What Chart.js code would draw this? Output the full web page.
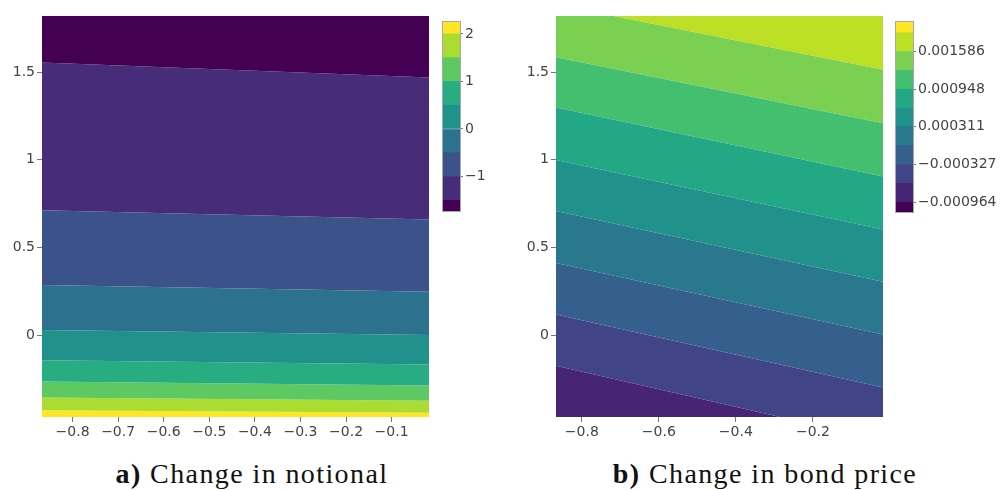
<!DOCTYPE html>
<html>
<head>
<meta charset="utf-8">
<script src="https://cdn.jsdelivr.net/npm/chart.js@4/dist/chart.umd.min.js"></script>
<style>
  html, body { margin: 0; padding: 0; background: #fff; overflow: hidden; }
  body { width: 1001px; height: 490px; position: relative; }
  .box { position: absolute; }
  .cap { position: absolute; top: 460px; font-family: "Liberation Serif", serif; font-size: 28px;
         line-height: 28px; letter-spacing: 1.4px; color: #111; white-space: nowrap; transform: translateX(-50%); }
</style>
</head>
<body>
<div class="box" style="left:0;top:0;width:440px;height:445px"><canvas id="notional"></canvas></div>
<div class="box" style="left:440px;top:0;width:60px;height:232px"><canvas id="notionalBar"></canvas></div>
<div class="box" style="left:500px;top:0;width:394px;height:445px"><canvas id="price"></canvas></div>
<div class="box" style="left:892px;top:0;width:109px;height:232px"><canvas id="priceBar"></canvas></div>
<div class="cap" style="left:252px"><b>a)</b> Change in notional</div>
<div class="cap" style="left:765px"><b>b)</b> Change in bond price</div>
<script>
// axis ranges and ticks
const xRange = [-0.867, -0.018];
const yRange = [-0.467, 1.82];
const xTicksA = [-0.8, -0.7, -0.6, -0.5, -0.4, -0.3, -0.2, -0.1];
const xTicksB = [-0.8, -0.6, -0.4, -0.2];
const yTicks = [0, 0.5, 1, 1.5];

// a) change in notional: contour levels and where each level line meets the left / right edge
const notionalLevels = [-1.5, -1, -0.5, 0, 0.5, 1, 1.5, 2];
const notionalLeftY  = [1.555, 0.712, 0.286, 0.029, -0.143, -0.265, -0.356, -0.428];
const notionalRightY = [1.469, 0.659, 0.247, 0.0, -0.167, -0.287, -0.375, -0.443];
const notionalBands  = [-1.725, -1.5, -1, -0.5, 0, 0.5, 1, 1.5, 2, 2.25];
const notionalColors = ['#440154', '#472c7a', '#3b528b', '#2c718e', '#21918c', '#27ad81', '#5ec962', '#aadc32', '#fde725'];
const notionalBarTicks = [-1, 0, 1, 2];

// b) change in bond price
const priceLevels = [-0.000645, -0.000327, -0.0000085, 0.000311, 0.000629, 0.000948, 0.001267, 0.001586];
const priceLeftY  = [-0.175, 0.118, 0.411, 0.708, 0.999, 1.298, 1.585, 1.885];
const priceRightY = [-0.601, -0.299, 0.004, 0.3045, 0.603, 0.904, 1.209, 1.513];
const priceBands  = [-0.00113, -0.000964, -0.000645, -0.000327, -0.0000085, 0.000311, 0.000629, 0.000948, 0.001267, 0.001586, 0.001904, 0.002085];
const priceColors = ['#440154', '#482475', '#414487', '#355f8d', '#2a788e', '#21918c', '#22a884', '#44bf70', '#7ad151', '#bddf26', '#fde725'];
const priceBarTicks = [-0.000964, -0.000327, 0.000311, 0.000948, 0.001586];

const tickFont = {family: 'DejaVu Sans', size: 14};
const minus = (v) => (v < 0 ? '\u2212' : '') + Math.abs(v);

// one line per level, each filled to the previous one; first/last filled to the plot edge
function contourSets(leftY, rightY, colors, firstFill, lastFill) {
  const sets = [];
  for (let i = 0; i < leftY.length; i++) {
    sets.push({
      data: [{x: xRange[0], y: leftY[i]}, {x: xRange[1], y: rightY[i]}],
      borderWidth: 0,
      pointRadius: 0,
      backgroundColor: colors[i],
      fill: i === 0 ? firstFill : '-1'
    });
  }
  const n = leftY.length - 1;
  sets.push({
    data: [{x: xRange[0], y: leftY[n]}, {x: xRange[1], y: rightY[n]}],
    borderWidth: 0,
    pointRadius: 0,
    backgroundColor: colors[n + 1],
    fill: lastFill
  });
  return sets;
}

function contourChart(id, sets, xTicks, yWidth) {
  new Chart(document.getElementById(id), {
    type: 'line',
    data: {datasets: sets},
    options: {
      responsive: true,
      maintainAspectRatio: false,
      animation: false,
      layout: {padding: {left: 0, top: 16, right: 11, bottom: 0}},
      plugins: {legend: {display: false}, tooltip: {enabled: false}},
      scales: {
        x: {
          type: 'linear', min: xRange[0], max: xRange[1],
          afterBuildTicks: (s) => { s.ticks = xTicks.map(v => ({value: v})); },
          afterFit: (s) => { s.height = 28; },
          grid: {drawOnChartArea: false, tickLength: 5, tickColor: '#777'},
          border: {display: false},
          ticks: {font: tickFont, color: '#444', padding: 2, maxRotation: 0, callback: minus}
        },
        y: {
          type: 'linear', min: yRange[0], max: yRange[1],
          afterBuildTicks: (s) => { s.ticks = yTicks.map(v => ({value: v})); },
          afterFit: (s) => { s.width = yWidth; },
          grid: {drawOnChartArea: false, tickLength: 5, tickColor: '#777'},
          border: {display: false},
          ticks: {font: tickFont, color: '#444', padding: 2, callback: minus}
        }
      }
    }
  });
}

const frame = {
  id: 'frame',
  afterDraw(chart) {
    const a = chart.chartArea;
    const c = chart.ctx;
    c.save();
    c.strokeStyle = '#a8a8a8';
    c.lineWidth = 1;
    c.strokeRect(a.left - 0.5, a.top - 0.5, a.right - a.left + 1, a.bottom - a.top + 1);
    c.restore();
  }
};

function colorBar(id, bands, colors, ticks, fmt, pad, yWidth) {
  const sets = [];
  for (let i = 0; i < colors.length; i++) {
    sets.push({data: [[bands[i], bands[i + 1]]], backgroundColor: colors[i], borderWidth: 0});
  }
  new Chart(document.getElementById(id), {
    type: 'bar',
    data: {labels: ['c'], datasets: sets},
    plugins: [frame],
    options: {
      responsive: true,
      maintainAspectRatio: false,
      animation: false,
      layout: {padding: pad},
      datasets: {bar: {grouped: false, barPercentage: 1, categoryPercentage: 1}},
      plugins: {legend: {display: false}, tooltip: {enabled: false}},
      scales: {
        x: {display: false},
        y: {
          position: 'right',
          min: bands[0], max: bands[bands.length - 1],
          afterBuildTicks: (s) => { s.ticks = ticks.map(v => ({value: v})); },
          afterFit: (s) => { s.width = yWidth; },
          grid: {drawOnChartArea: false, tickLength: 3, tickColor: '#777'},
          border: {display: false},
          ticks: {font: tickFont, color: '#444', padding: 2, callback: fmt}
        }
      }
    }
  });
}

contourChart('notional', contourSets(notionalLeftY, notionalRightY, notionalColors, 'end', 'start'), xTicksA, 42);
contourChart('price', contourSets(priceLeftY, priceRightY, priceColors.slice(1), 'start', 'end'), xTicksB, 56);

colorBar('notionalBar', notionalBands, notionalColors, notionalBarTicks, minus,
  {left: 3, top: 22, right: 0, bottom: 21}, 40);
colorBar('priceBar', priceBands, priceColors, priceBarTicks,
  (v) => (v < 0 ? '\u2212' : '') + Math.abs(v).toFixed(6),
  {left: 4, top: 22, right: 0, bottom: 20}, 88);
</script>
</body>
</html>
